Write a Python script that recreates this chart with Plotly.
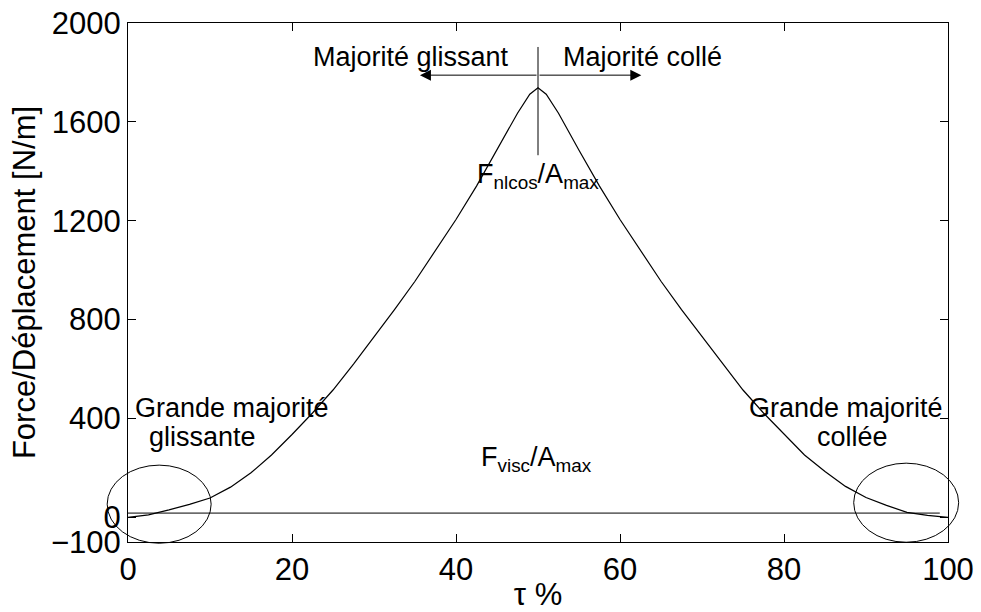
import plotly.graph_objects as go

# Normalised nonlinear force and viscous force vs. stick ratio tau (%)
tau = [0, 2.5, 5, 7.5, 10, 12.5, 15, 17.5, 20, 22.5, 25, 27.5, 30, 32.5, 35,
       37.5, 40, 42.5, 45, 47.5, 49, 50, 51, 52.5, 55, 57.5, 60, 62.5, 65,
       67.5, 70, 72.5, 75, 77.5, 80, 82.5, 85, 87.5, 90, 92.5, 95, 97.5, 100]
f_nlcos = [0, 10, 30, 52, 78, 122, 180, 252, 335, 422, 515, 620, 730, 840, 955,
           1078, 1205, 1340, 1485, 1635, 1712, 1738, 1712, 1635, 1485, 1340, 1205,
           1078, 955, 840, 730, 620, 515, 422, 335, 252, 185, 125, 80, 48, 20, 8, 0]
tau_visc = [0, 99]
f_visc = [17, 17]

x_ticks = [0, 20, 40, 60, 80, 100]
y_ticks = [-100, 0, 400, 800, 1200, 1600, 2000]
y_ticktext = ["\u2212100", "0", "400", "800", "1200", "1600", "2000"]

x_range = [0, 100]
y_range = [-100, 2000]

FONT = "Liberation Sans, Arial, sans-serif"
TICK_SIZE = 31
TEXT_SIZE = 27


def to_paper(x, y):
    px = (x - x_range[0]) / (x_range[1] - x_range[0])
    py = (y - y_range[0]) / (y_range[1] - y_range[0])
    return px, py


fig = go.Figure()
fig.add_trace(go.Scatter(x=tau, y=f_nlcos, mode="lines",
                         line=dict(color="black", width=1.2), showlegend=False))
fig.add_trace(go.Scatter(x=tau_visc, y=f_visc, mode="lines",
                         line=dict(color="black", width=1), showlegend=False))

shapes = []
# region ellipses (centre x, centre y, half width, half height) in data units
regions = [(3.8, 53, 6.34, 158), (94.9, 59, 6.4, 160)]
for cx, cy, rx, ry in regions:
    x0, y0 = to_paper(cx - rx, cy - ry)
    x1, y1 = to_paper(cx + rx, cy + ry)
    shapes.append(dict(type="circle", xref="paper", yref="paper",
                       x0=x0, y0=y0, x1=x1, y1=y1,
                       line=dict(color="black", width=1)))
# vertical marker at the peak
shapes.append(dict(type="line", xref="x", yref="y", x0=50, x1=50,
                   y0=1465, y1=1903, line=dict(color="black", width=1)))

annotations = []
for xh in (35.6, 62.6):
    annotations.append(dict(x=xh, y=1789, ax=50, ay=1789, axref="x", ayref="y",
                            xref="x", yref="y", text="", showarrow=True,
                            arrowhead=2, arrowsize=2.2, arrowwidth=1,
                            arrowcolor="black"))

labels = [
    ("Majorité glissant", 34.5, 1864),
    ("Majorité collé", 62.7, 1864),
    ("F<sub>nlcos</sub>/A<sub>max</sub>", 50.0, 1380),
    ("F<sub>visc</sub>/A<sub>max</sub>", 49.8, 235),
    ("Grande majorité", 12.7, 443),
    ("glissante", 9.1, 324),
    ("Grande majorité", 87.6, 443),
    ("collée", 88.3, 324),
]
for txt, xx, yy in labels:
    annotations.append(dict(x=xx, y=yy, xref="x", yref="y", text=txt,
                            showarrow=False, xanchor="center", yanchor="middle",
                            font=dict(family=FONT, size=TEXT_SIZE, color="black")))

fig.update_layout(
    width=981, height=612,
    margin=dict(l=128, r=33, t=23, b=70, autoexpand=False),
    paper_bgcolor="white", plot_bgcolor="white",
    font=dict(family=FONT, size=TICK_SIZE, color="black"),
    shapes=shapes, annotations=annotations,
    xaxis=dict(range=x_range, tickvals=x_ticks, ticks="inside", ticklen=8,
               tickcolor="black", showline=True, linecolor="black", linewidth=1,
               mirror="ticks", showgrid=False, zeroline=False, automargin=False,
               tickfont=dict(family=FONT, size=TICK_SIZE),
               title=dict(text="\u03c4 %", standoff=6,
                          font=dict(family=FONT, size=TICK_SIZE))),
    yaxis=dict(range=y_range, tickvals=y_ticks, ticktext=y_ticktext,
               ticks="inside", ticklen=8, tickcolor="black", showline=True,
               linecolor="black", linewidth=1, mirror="ticks", showgrid=False,
               zeroline=False, automargin=False,
               tickfont=dict(family=FONT, size=TICK_SIZE),
               title=dict(text="Force/Déplacement [N/m]", standoff=6,
                          font=dict(family=FONT, size=TICK_SIZE))),
)

fig.write_html("out.html")
